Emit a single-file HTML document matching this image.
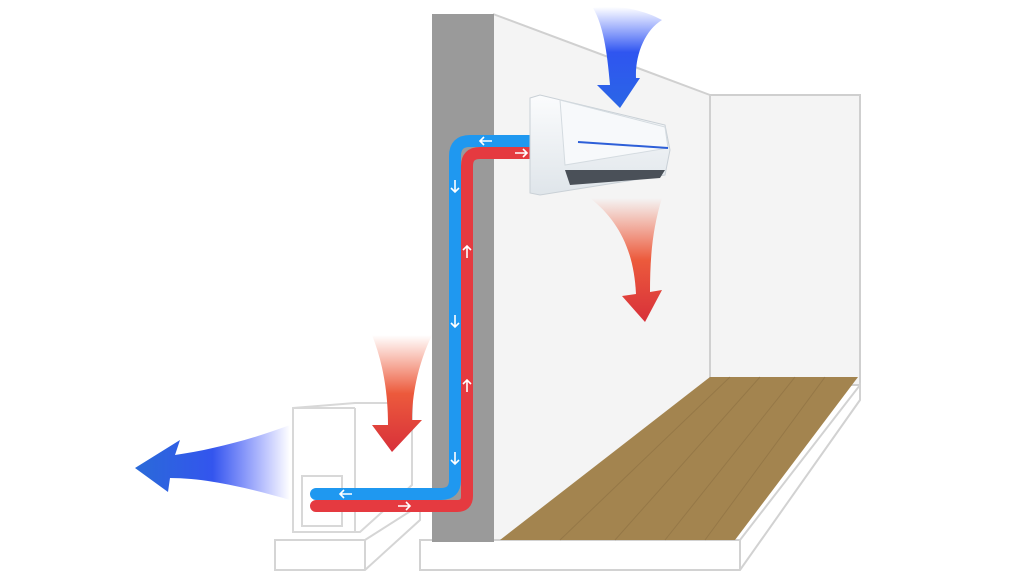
<!DOCTYPE html>
<html><head><style>html,body{margin:0;padding:0;background:#fff}svg{display:block}</style></head><body>
<svg width="1024" height="576" viewBox="0 0 1024 576" xmlns="http://www.w3.org/2000/svg">
<defs>
<linearGradient id="bt" x1="0" y1="0" x2="0" y2="1"><stop offset="0" stop-color="#3b5bff" stop-opacity="0"/><stop offset="0.45" stop-color="#2f55f0"/><stop offset="1" stop-color="#2a66e6"/></linearGradient>
<linearGradient id="rd" x1="0" y1="0" x2="0" y2="1"><stop offset="0" stop-color="#f06040" stop-opacity="0"/><stop offset="0.5" stop-color="#ec5a3c"/><stop offset="1" stop-color="#d8303a"/></linearGradient>
<linearGradient id="bl" x1="1" y1="0" x2="0" y2="0"><stop offset="0" stop-color="#3344ff" stop-opacity="0"/><stop offset="0.5" stop-color="#3355ee"/><stop offset="1" stop-color="#2a6ad8"/></linearGradient>
<linearGradient id="ac" x1="0" y1="0" x2="0" y2="1"><stop offset="0" stop-color="#fbfcfd"/><stop offset="1" stop-color="#dfe5ea"/></linearGradient>
</defs>
<rect x="710" y="95" width="150" height="290" fill="#f4f4f4" stroke="#cfcfcf" stroke-width="2"/>
<polygon points="493,14 710,95 710,545 493,545" fill="#f4f4f4"/>
<line x1="493" y1="14" x2="710" y2="95" stroke="#d0d0d0" stroke-width="2"/>
<line x1="710" y1="95" x2="710" y2="380" stroke="#d0d0d0" stroke-width="2"/>
<polygon points="420,540 740,540 860,385 860,400 740,570 420,570" fill="#fff" stroke="#d2d2d2" stroke-width="2"/>
<line x1="740" y1="540" x2="740" y2="570" stroke="#d2d2d2" stroke-width="2"/>
<polygon points="500,540 735,540 858,377 710,377" fill="#a3844f"/>
<g stroke="#8d7042" stroke-width="1" opacity="0.6"><line x1="560" y1="540" x2="730" y2="377"/><line x1="615" y1="540" x2="760" y2="377"/><line x1="665" y1="540" x2="795" y2="377"/><line x1="705" y1="540" x2="825" y2="377"/></g>
<rect x="432" y="14" width="62" height="528" fill="#9a9a9a"/>
<polygon points="275,540 365,540 420,505 420,520 365,570 275,570" fill="#fff" stroke="#d5d5d5" stroke-width="2"/>
<line x1="365" y1="540" x2="365" y2="570" stroke="#d5d5d5" stroke-width="2"/>
<polygon points="293,408 355,403 412,403 412,485 360,532 293,532" fill="#fff" stroke="#d8d8d8" stroke-width="2"/>
<line x1="355" y1="408" x2="355" y2="532" stroke="#d8d8d8" stroke-width="2"/>
<line x1="293" y1="408" x2="355" y2="408" stroke="#d8d8d8" stroke-width="2"/>
<rect x="302" y="476" width="40" height="50" fill="none" stroke="#d8d8d8" stroke-width="2"/>
<path d="M290,425 C250,440 210,450 175,455 L180,440 L135,468 L168,492 L170,478 C210,478 255,490 290,500 Z" fill="url(#bl)"/>
<path d="M372,335 L432,335 C420,360 412,390 412,420 L422,420 L392,452 L372,425 L388,425 C388,390 382,360 372,335 Z" fill="url(#rd)"/>
<path d="M548,141 H470 Q455,141 455,156 V480 Q455,494 441,494 H316" fill="none" stroke="#1f98f0" stroke-width="12" stroke-linecap="round"/>
<path d="M548,153 H480 Q467,153 467,166 V496 Q467,506 457,506 H316" fill="none" stroke="#e53a40" stroke-width="12" stroke-linecap="round"/>
<g fill="none" stroke="#fff" stroke-width="1.6">
<path d="M492,141 H480 M484,137 L480,141 L484,145"/>
<path d="M515,153 H527 M523,149 L527,153 L523,157"/>
<path d="M455,180 V192 M451,188 L455,192 L459,188"/>
<path d="M455,315 V327 M451,323 L455,327 L459,323"/>
<path d="M455,452 V464 M451,460 L455,464 L459,460"/>
<path d="M467,258 V246 M463,250 L467,246 L471,250"/>
<path d="M467,392 V380 M463,384 L467,380 L471,384"/>
<path d="M352,494 H340 M344,490 L340,494 L344,498"/>
<path d="M398,506 H410 M406,502 L410,506 L406,510"/>
</g>
<path d="M530,98 L540,95 L665,125 L670,150 L665,175 L540,195 L530,193 Z" fill="url(#ac)" stroke="#c9d0d6" stroke-width="1"/>
<path d="M560,100 L665,127 L668,148 L565,165 Z" fill="#f7f9fb" stroke="#d4dbe0" stroke-width="1"/>
<line x1="578" y1="142" x2="668" y2="148" stroke="#2d5fd8" stroke-width="2"/>
<path d="M565,170 L665,170 L660,178 L570,185 Z" fill="#4a5058"/>
<path d="M593,8 C615,5 640,8 662,20 C645,30 635,55 636,78 L640,78 L620,108 L597,85 L610,85 C607,50 603,25 593,8 Z" fill="url(#bt)"/>
<path d="M590,198 L662,198 C652,230 650,260 650,292 L662,290 L645,322 L622,296 L636,294 C634,250 618,220 590,198 Z" fill="url(#rd)"/>
</svg>
</body></html>
